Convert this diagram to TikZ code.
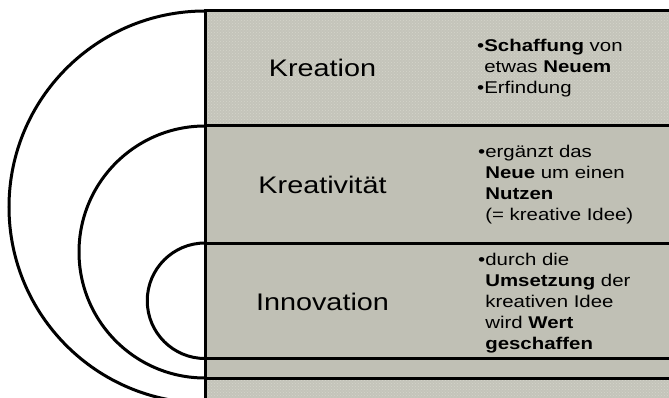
\documentclass[tikz,border=0pt]{standalone}
\usepackage{fontspec}
\setmainfont{Liberation Sans}
\usetikzlibrary{patterns}
\definecolor{plaingrey}{RGB}{192,192,181}
\definecolor{texgrey}{RGB}{196,196,186}
\definecolor{dotcol}{RGB}{212,212,203}
\newcommand{\lbltext}[1]{\scalebox{1.2}[1]{\fontsize{24}{28}\selectfont #1}}
\newcommand{\bultext}[1]{\scalebox{1.2}[1]{\fontsize{17}{21}\selectfont\begin{tabular}[t]{@{}l@{}}#1\end{tabular}}}
\newcommand{\bul}{\textbullet}
\newcommand{\ind}{\phantom{\textbullet}}
\tikzset{
  frame/.style={draw=black, line width=3pt},
  arcline/.style={draw=black, line width=3pt},
  lbl/.style={anchor=base, inner sep=0pt},
  btxt/.style={anchor=base west, inner sep=0pt, align=left}
}
\begin{document}
\begin{tikzpicture}[x=1pt,y=1pt]
\useasboundingbox (0,0) rectangle (669,397);
\fill[white] (0,0) rectangle (669,397);
\begin{scope}
\clip (0,0) rectangle (669,397);
% outer (Kreation)
\fill[texgrey] (205,-10) rectangle (690,386);
\fill[pattern=crosshatch dots, pattern color=dotcol] (205,-10) rectangle (690,386);
\draw[frame] (690,386) -- (205,386) -- (205,-10);
\draw[arcline] (205,386) arc[start angle=90, end angle=270, radius=196];
% middle (Kreativitaet)
\fill[plaingrey] (205,19) rectangle (690,271);
\draw[frame] (690,271) -- (205,271) -- (205,19) -- (690,19);
\draw[arcline] (205,271) arc[start angle=90, end angle=270, radius=126];
% inner (Innovation)
\fill[plaingrey] (205,38.5) rectangle (690,154);
\draw[frame] (690,154) -- (205,154) -- (205,38.5) -- (690,38.5);
\draw[arcline] (205,154) arc[start angle=90, end angle=270, radius=57.75];
\end{scope}
% labels
\node[lbl] (kreation) at (322.5,320) {\lbltext{Kreation}};
\node[lbl] (kreativ) at (322.5,204) {\lbltext{Kreativität}};
\node[lbl] (innov) at (322.5,87) {\lbltext{Innovation}};
% bullet texts
\node[btxt] (t1) at (477,345) {\bultext{\bul\textbf{Schaffung} von\\ \ind etwas \textbf{Neuem}\\ \bul Erfindung}};
\node[btxt] (t2) at (478,240) {\bultext{\bul ergänzt das\\ \ind\textbf{Neue} um einen\\ \ind\textbf{Nutzen}\\ \ind(= kreative Idee)}};
\node[btxt] (t3) at (478,132) {\bultext{\bul durch die\\ \ind\textbf{Umsetzung} der\\ \ind kreativen Idee\\ \ind wird \textbf{Wert}\\ \ind\textbf{geschaffen}}};
\end{tikzpicture}
\end{document}
